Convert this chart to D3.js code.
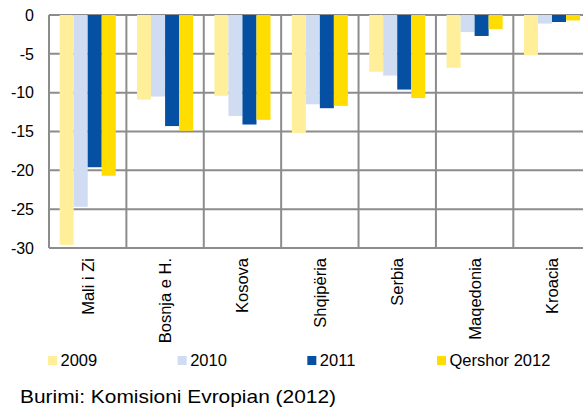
<!DOCTYPE html>
<html><head><meta charset="utf-8">
<script src="https://cdn.jsdelivr.net/npm/d3@7"></script>
<style>body{margin:0;background:#fff;}svg{display:block;font-family:"Liberation Sans",Arial,sans-serif;}</style>
</head><body><svg id="c" width="583" height="407"></svg>
<script>
const categories = ["Mali i Zi","Bosnja e H.","Kosova","Shqipëria","Serbia","Maqedonia","Kroacia"];
const seriesNames = ["2009","2010","2011","Qershor 2012"];
const s2009 = [-29.6,-10.9,-10.4,-15.2,-7.3,-6.8,-5.2];
const s2010 = [-24.7,-10.5,-13.0,-11.5,-7.8,-2.2,-1.1];
const s2011 = [-19.6,-14.3,-14.1,-12.0,-9.6,-2.7,-0.9];
const sQ2012 = [-20.7,-14.9,-13.5,-11.7,-10.7,-1.8,-0.7];
const yTicks = [0,-5,-10,-15,-20,-25,-30];
const sourceText = "Burimi: Komisioni Evropian (2012)";

const colors = ["#FFEF9A","#D0DCF2","#0550A3","#FFDD00"];
const series = [s2009,s2010,s2011,sQ2012];

const svg = d3.select("#c");
const L = 49, T = 15, B = 248, R = 590.7;
const x = d3.scaleBand().domain(categories).range([L, R]).paddingInner(0).paddingOuter(0);
const x1 = d3.scaleBand().domain(seriesNames).range([0, x.bandwidth()]).paddingOuter(0.76).paddingInner(0);
const y = d3.scaleLinear().domain([0,-30]).range([T, B]);

const grid = svg.append("g");
grid.selectAll("line.h").data(yTicks).enter().append("line")
  .attr("x1", L).attr("x2", R).attr("y1", d=>y(d)).attr("y2", d=>y(d))
  .attr("stroke","#8c8c8c").attr("stroke-width",2);
const bounds = categories.map(c=>x(c)).concat([R]);
grid.selectAll("line.v").data(bounds).enter().append("line")
  .attr("x1", d=>d).attr("x2", d=>d).attr("y1", T).attr("y2", B)
  .attr("stroke","#8c8c8c").attr("stroke-width",2);

series.forEach((vals, si) => {
  svg.append("g").selectAll("rect").data(vals).enter().append("rect")
    .attr("x", (d,i)=>x(categories[i]) + x1(seriesNames[si]))
    .attr("width", x1.bandwidth())
    .attr("y", y(0))
    .attr("height", d=>y(d)-y(0))
    .attr("fill", colors[si]);
});

// y axis labels
svg.append("g").selectAll("text").data(yTicks).enter().append("text")
  .attr("x", 34).attr("y", d=>y(d)).attr("dy","0.36em")
  .attr("text-anchor","end").attr("font-size",16).attr("fill","#000")
  .text(d=>d===0?"0":"-"+Math.abs(d));

// x labels
svg.append("g").selectAll("text").data(categories).enter().append("text")
  .attr("transform", d=>`translate(${x(d)+x.bandwidth()/2+6},258) rotate(-90)`)
  .attr("text-anchor","end").attr("font-size",16.5).attr("fill","#000")
  .text(d=>d);

// legend
const legX = d3.scalePoint().domain(seriesNames).range([48, 437]);
const lg = svg.append("g").selectAll("g").data(seriesNames).enter().append("g")
  .attr("transform", d=>`translate(${legX(d)},356)`);
lg.append("rect").attr("width",9).attr("height",9).attr("fill",(d,i)=>colors[i]);
lg.append("text").attr("x",12.5).attr("y",10).attr("font-size",16.5).attr("fill","#000").text(d=>d);

svg.append("text").attr("x",20).attr("y",403).attr("font-size",19)
  .attr("textLength",316).attr("lengthAdjust","spacingAndGlyphs")
  .attr("fill","#000").text(sourceText);
</script></body></html>
